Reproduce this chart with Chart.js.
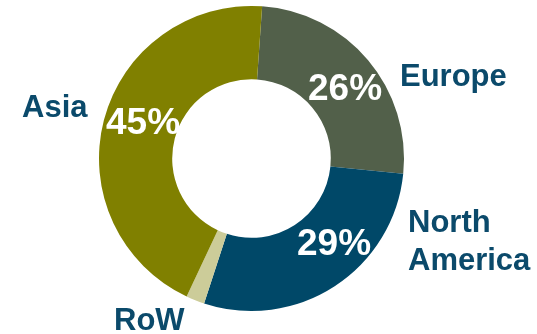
<!DOCTYPE html>
<html>
<head>
<meta charset="utf-8">
<script src="https://cdn.jsdelivr.net/npm/chart.js@4.4.1/dist/chart.umd.min.js"></script>
<style>
  html, body { margin: 0; padding: 0; background: #fff; }
  #wrap { width: 537px; height: 334px; }
</style>
</head>
<body>
<div id="wrap"><canvas id="regionChart" width="537" height="334"></canvas></div>
<script>
// Share by region, clockwise from the top
const regions = ['Europe', 'North America', 'RoW', 'Asia'];
const shares = [26, 29, 2, 45];
const shareLabels = ['26%', '29%', '', '45%'];
const sliceColors = ['#52604a', '#004868', '#cccc99', '#808000'];

// Where the region names and percentages sit
const nameSpots = [
  { lines: ['Europe'], x: 400, y: 86 },
  { lines: ['North', 'America'], x: 408, y: 232 },
  { lines: ['RoW'], x: 114, y: 330 },
  { lines: ['Asia'], x: 22, y: 117 }
];
const pctSpots = [
  { x: 345, y: 100 },
  { x: 334, y: 255 },
  null,
  { x: 143, y: 134 }
];

const labelPlugin = {
  id: 'regionLabels',
  afterDatasetsDraw(chart) {
    const ctx = chart.ctx;
    ctx.save();
    ctx.textBaseline = 'alphabetic';

    // percentages inside the ring
    ctx.fillStyle = '#ffffff';
    ctx.font = 'bold 37px "Liberation Sans", Arial, sans-serif';
    ctx.textAlign = 'center';
    shareLabels.forEach((txt, i) => {
      if (!txt || !pctSpots[i]) return;
      ctx.fillText(txt, pctSpots[i].x, pctSpots[i].y);
    });

    // region names around the ring
    ctx.fillStyle = '#0b4a6b';
    ctx.font = 'bold 31px "Liberation Sans", Arial, sans-serif';
    ctx.textAlign = 'left';
    nameSpots.forEach(spot => {
      spot.lines.forEach((line, j) => {
        ctx.fillText(line, spot.x, spot.y + j * 38);
      });
    });
    ctx.restore();
  }
};

new Chart(document.getElementById('regionChart'), {
  type: 'doughnut',
  data: {
    labels: regions,
    datasets: [{
      data: shares,
      backgroundColor: sliceColors,
      borderWidth: 0
    }]
  },
  options: {
    responsive: false,
    animation: false,
    rotation: 4,
    cutout: '52%',
    layout: { padding: { top: 6, bottom: 23, left: 99, right: 133 } },
    plugins: {
      legend: { display: false },
      tooltip: { enabled: false }
    }
  },
  plugins: [labelPlugin]
});
</script>
</body>
</html>
